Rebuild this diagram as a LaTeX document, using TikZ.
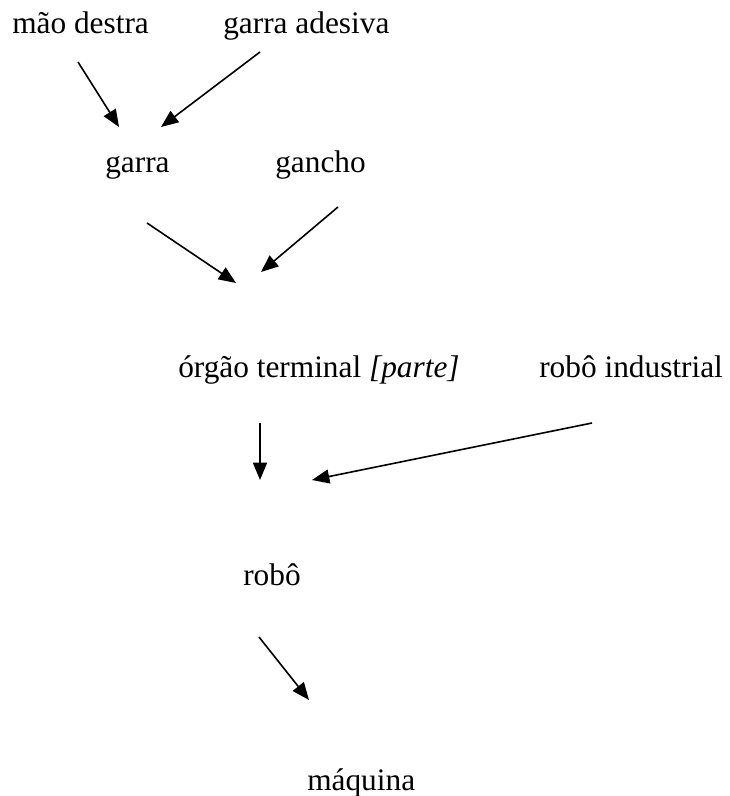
\documentclass[tikz,border=0pt]{standalone}
\usepackage{fontspec}
\setmainfont{Liberation Serif}
\usetikzlibrary{arrows.meta}
\begin{document}
\begin{tikzpicture}[x=0.75pt, y=-0.75pt,
        word/.style={anchor=base west, inner sep=0pt, font=\fontsize{23.5}{28}\selectfont},
        link/.style={-{Triangle[length=13pt, width=10.5pt]}, line width=1.2pt}]
            \useasboundingbox (0, 0) rectangle (729, 796);
            %% Text Nodes
            \node[word] at (12, 33) (maodestra) {mão destra};
            \node[word] at (223, 33) (garraadesiva) {garra adesiva};
            \node[word] at (105, 172) (garra) {garra};
            \node[word] at (275, 172) (gancho) {gancho};
            \node[word] at (178, 377) (orgao) {órgão terminal \textit{[parte]}};
            \node[word] at (539, 377) (robind) {robô industrial};
            \node[word] at (243, 585) (robo) {robô};
            \node[word] at (307, 790) (maquina) {máquina};
            %% Anchors
            \coordinate (maodestraout) at (78, 62);
            \coordinate (adesivaout) at (260, 52);
            \coordinate (garrain) at (119, 127);
            \coordinate (garrainb) at (161, 127);
            \coordinate (garraout) at (147, 223);
            \coordinate (ganchoout) at (338, 207);
            \coordinate (orgaoin) at (236, 283);
            \coordinate (orgaoinb) at (261, 272);
            \coordinate (orgaoout) at (260, 423);
            \coordinate (robindout) at (592, 423);
            \coordinate (roboin) at (260, 480);
            \coordinate (roboinb) at (312, 480);
            \coordinate (roboout) at (259, 637);
            \coordinate (maquinain) at (309, 700);
            %% Arrows
            \draw[link] (maodestraout) -- (garrain);
            \draw[link] (adesivaout) -- (garrainb);
            \draw[link] (garraout) -- (orgaoin);
            \draw[link] (ganchoout) -- (orgaoinb);
            \draw[link] (orgaoout) -- (roboin);
            \draw[link] (robindout) -- (roboinb);
            \draw[link] (roboout) -- (maquinain);
    \end{tikzpicture}
\end{document}
